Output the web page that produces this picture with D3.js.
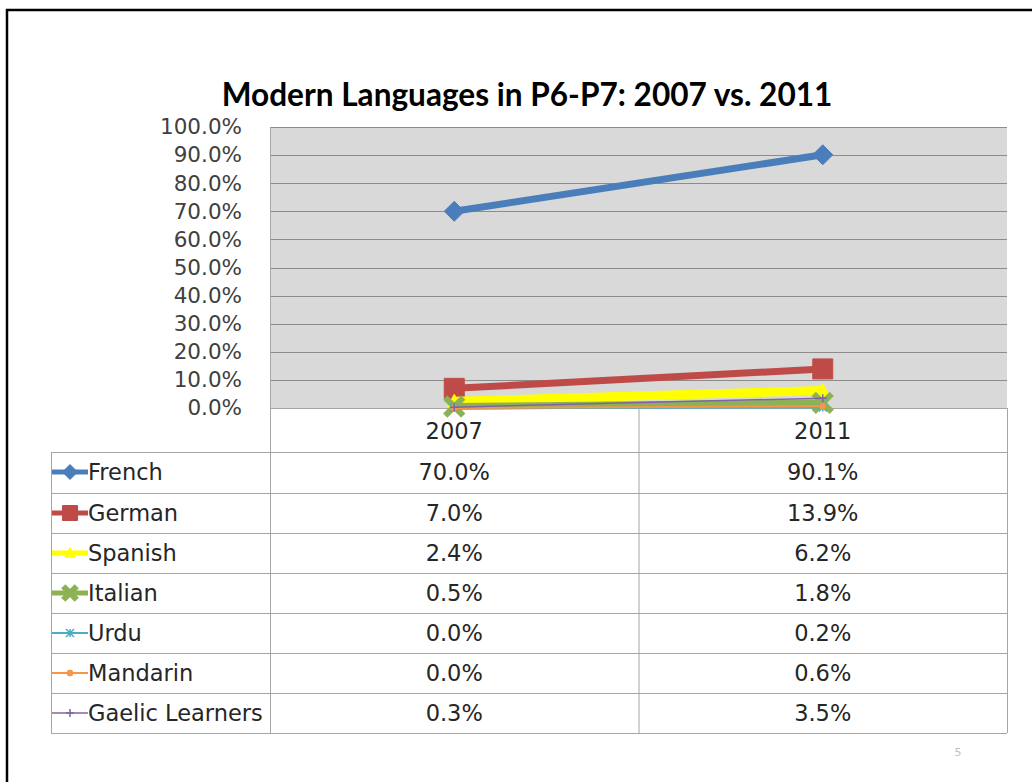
<!DOCTYPE html>
<html><head><meta charset="utf-8">
<script src="https://cdn.jsdelivr.net/npm/d3@7/dist/d3.min.js"></script>
<style>body{margin:0;background:#fff;}svg{display:block;}</style>
</head><body>
<script>
const categories = ["2007", "2011"];
const seriesNames = ["French", "German", "Spanish", "Italian", "Urdu", "Mandarin", "Gaelic Learners"];
const french = [0.700, 0.901];
const german = [0.070, 0.139];
const spanish = [0.024, 0.062];
const italian = [0.005, 0.018];
const urdu = [0.000, 0.002];
const mandarin = [0.000, 0.006];
const gaelic = [0.003, 0.035];
const yTicks = [0, 0.1, 0.2, 0.3, 0.4, 0.5, 0.6, 0.7, 0.8, 0.9, 1.0];
const title = "Modern Languages in P6-P7: 2007 vs. 2011";

const seriesValues = [french, german, spanish, italian, urdu, mandarin, gaelic];
const styles = [
  {color:"#4A7EBB", width:7, marker:"diamond", size:10},
  {color:"#BE4B48", width:7, marker:"square", size:10},
  {color:"#FFFF00", width:9, marker:"triangle", size:7},
  {color:"#8DB255", width:7, marker:"x", size:9},
  {color:"#4BACC6", width:2, marker:"star", size:4},
  {color:"#F79646", width:2, marker:"circle", size:3},
  {color:"#8064A2", width:1.5, marker:"plus", size:4}
];

const W = 1032, H = 782;
const svg = d3.select("body").append("svg").attr("width", W).attr("height", H);
const TFONT = "Lato, 'Open Sans', sans-serif";
const FONT = "'DejaVu Sans', sans-serif";

// outer frame
svg.append("rect").attr("x", 7).attr("y", 10).attr("width", 1040).attr("height", 800)
  .attr("fill", "none").attr("stroke", "#000").attr("stroke-width", 2.5);

const plotL = 270, plotR = 1007, plotT = 127, plotB = 408;
const x = d3.scaleBand().domain(categories).range([plotL, plotR]).padding(0);
const y = d3.scaleLinear().domain([0, 1]).range([plotB, plotT]);

// title
const t = svg.append("text").attr("x", 527).attr("y", 106).attr("text-anchor", "middle")
  .attr("font-family", TFONT).attr("font-weight", "bold").attr("font-size", 26)
  .attr("fill", "#000").text(title);
const tw = t.node().getComputedTextLength();
t.attr("font-size", 26 * 611 / tw);

// plot background
svg.append("rect").attr("x", plotL).attr("y", plotT).attr("width", plotR - plotL).attr("height", plotB - plotT)
  .attr("fill", "#D9D9D9");

// gridlines
svg.append("g").selectAll("line").data(yTicks).join("line")
  .attr("x1", plotL).attr("x2", plotR)
  .attr("y1", d => Math.round(y(d)) + 0.5).attr("y2", d => Math.round(y(d)) + 0.5)
  .attr("stroke", "#8C8C8C").attr("stroke-width", 1);

// y axis
const yAxis = d3.axisLeft(y).tickValues(yTicks).tickFormat(d3.format(".1%")).tickSize(0).tickPadding(0);
const ga = svg.append("g").attr("transform", `translate(242,0)`).call(yAxis);
ga.select(".domain").remove();
ga.selectAll("text").attr("font-family", FONT).attr("font-size", 21.5).attr("fill", "#404040");
svg.append("line").attr("x1", plotL + 0.5).attr("x2", plotL + 0.5).attr("y1", plotT).attr("y2", plotB)
  .attr("stroke", "#A6A6A6");

// table
const rowTop = [452, 493, 533, 573, 613, 653, 693];
const rowH = 40;
const tableB = 733;
const TS = 22.5;
const tg = svg.append("g");
const gridC = "#A6A6A6";
tg.append("line").attr("x1", plotL).attr("x2", plotR).attr("y1", plotB + 0.5).attr("y2", plotB + 0.5).attr("stroke", gridC);
rowTop.concat([tableB]).forEach(yy => {
  tg.append("line").attr("x1", 51).attr("x2", plotR).attr("y1", yy + 0.5).attr("y2", yy + 0.5).attr("stroke", gridC);
});
tg.append("line").attr("x1", 51.5).attr("x2", 51.5).attr("y1", rowTop[0]).attr("y2", tableB).attr("stroke", gridC);
[plotL, x("2011"), plotR].forEach(xx => {
  tg.append("line").attr("x1", xx + 0.5).attr("x2", xx + 0.5).attr("y1", plotB).attr("y2", tableB).attr("stroke", gridC);
});
tg.selectAll("text.hdr").data(categories).join("text").attr("class", "hdr")
  .attr("x", d => x(d) + x.bandwidth() / 2).attr("y", 431).attr("dy", "0.35em")
  .attr("text-anchor", "middle").attr("font-family", FONT).attr("font-size", TS).attr("fill", "#262626").text(d => d);
const fmt = d3.format(".1%");
seriesNames.forEach((name, i) => {
  const cy = rowTop[i] + rowH / 2;
  categories.forEach((c, j) => {
    tg.append("text").attr("x", x(c) + x.bandwidth() / 2).attr("y", cy).attr("dy", "0.35em")
      .attr("text-anchor", "middle").attr("font-family", FONT).attr("font-size", TS).attr("fill", "#262626")
      .text(fmt(seriesValues[i][j]));
  });
  tg.append("text").attr("x", 88).attr("y", cy).attr("dy", "0.35em")
    .attr("font-family", FONT).attr("font-size", TS).attr("fill", "#262626").text(name);
});

function markerPath(type, s) {
  switch (type) {
    case "diamond": return `M0,${-s}L${s},0L0,${s}L${-s},0Z`;
    case "square": return `M${-s},${-s}H${s}V${s}H${-s}Z`;
    case "triangle": return `M0,${-s}L${s},${s * 0.8}L${-s},${s * 0.8}Z`;
    case "x": return `M${-s},${-s}L${s},${s}M${s},${-s}L${-s},${s}`;
    case "star": return `M${-s},${-s}L${s},${s}M${s},${-s}L${-s},${s}M0,${-s}V${s}`;
    case "plus": return `M${-s},0H${s}M0,${-s}V${s}`;
    case "circle": return d3.arc()({innerRadius:0, outerRadius:s, startAngle:0, endAngle:2 * Math.PI});
  }
}
function drawMarker(g, st, cx, cy, scale) {
  const s = st.size * scale;
  const p = g.append("path").attr("transform", `translate(${cx},${cy})`).attr("d", markerPath(st.marker, s));
  if (st.marker === "x" || st.marker === "star" || st.marker === "plus") {
    p.attr("fill", "none").attr("stroke", st.color).attr("stroke-width", st.marker === "x" ? 6 : 1.5);
  } else {
    p.attr("fill", st.color).attr("stroke", st.color).attr("stroke-width", 1);
  }
}

const line = d3.line().x((d, j) => x(categories[j]) + x.bandwidth() / 2).y(d => y(d));
const lg = svg.append("g");
seriesValues.forEach((vals, i) => {
  const st = styles[i];
  lg.append("path").datum(vals).attr("d", line).attr("fill", "none")
    .attr("stroke", st.color).attr("stroke-width", st.width).attr("stroke-linejoin", "round");
  vals.forEach((v, j) => drawMarker(lg, st, x(categories[j]) + x.bandwidth() / 2, y(v), 1));
});

seriesNames.forEach((name, i) => {
  const st = styles[i];
  const cy = rowTop[i] + rowH / 2;
  const k = svg.append("g");
  k.append("line").attr("x1", 52).attr("x2", 88).attr("y1", cy).attr("y2", cy)
    .attr("stroke", st.color).attr("stroke-width", Math.min(st.width, 5));
  drawMarker(k, st, 70, cy, i < 4 ? 0.75 : 1);
});

svg.append("text").attr("x", 958).attr("y", 756).attr("text-anchor", "middle")
  .attr("font-family", FONT).attr("font-size", 11).attr("fill", "#BFBFBF").text("5");
</script>
</body></html>
